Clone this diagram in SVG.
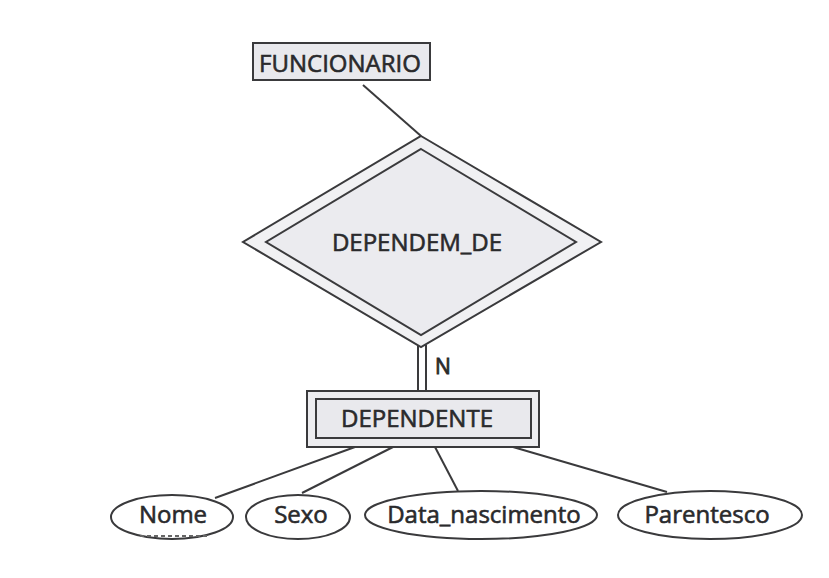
<svg xmlns="http://www.w3.org/2000/svg" width="829" height="578" viewBox="0 0 829 578">
<style>
.s{stroke:#3a3a3c;stroke-width:2;}
.lbl{font-family:"Open Sans","Liberation Sans",sans-serif;font-size:24px;fill:#2a2a2c;stroke:#2a2a2c;stroke-width:0.6;text-anchor:middle;}
.ent{fill:#e9e9ed;}
.att{fill:#ffffff;}
</style>
<rect width="829" height="578" fill="#ffffff"/>
<g id="connectors" class="s" fill="none">
<line x1="363" y1="85" x2="421" y2="136"/>
<line x1="418" y1="345" x2="418" y2="391"/>
<line x1="426" y1="345" x2="426" y2="391"/>
<line x1="355" y1="447" x2="215" y2="498"/>
<line x1="393" y1="447" x2="302" y2="493"/>
<line x1="435" y1="447" x2="458" y2="491"/>
<line x1="513" y1="447" x2="667" y2="492"/>
<text x="443" y="374" class="lbl" style="font-size:21px;stroke-width:0.8">N</text>
</g>
<g id="funcionario">
<rect x="253" y="43" width="177" height="37" class="s ent"/>
<text x="340" y="72" class="lbl">FUNCIONARIO</text>
</g>
<g id="dependem_de">
<polygon points="421,136 601,242 421,347 243,242" class="s" fill="#f1f1f3"/>
<polygon points="421,149 576,242 421,335 266,242" class="s" fill="#ebebef"/>
<text x="417" y="251" class="lbl">DEPENDEM_DE</text>
</g>
<g id="dependente">
<rect x="307" y="391" width="232" height="56" class="s" fill="#ededf0"/>
<rect x="316" y="399" width="215" height="39" class="s ent"/>
<text x="417" y="427" class="lbl">DEPENDENTE</text>
</g>
<g id="nome">
<ellipse cx="172" cy="517" rx="61" ry="22" class="s att"/>
<text x="173" y="523" class="lbl">Nome</text>
<line x1="140" y1="536" x2="208" y2="536" stroke="#666" stroke-width="2" stroke-dasharray="4,3"/>
</g>
<g id="sexo">
<ellipse cx="298" cy="517" rx="52" ry="22" class="s att"/>
<text x="301" y="523" class="lbl">Sexo</text>
</g>
<g id="data_nascimento">
<ellipse cx="481" cy="515" rx="116" ry="24" class="s att"/>
<text x="484" y="523" class="lbl">Data_nascimento</text>
</g>
<g id="parentesco">
<ellipse cx="710" cy="515" rx="92" ry="24" class="s att"/>
<text x="707" y="523" class="lbl">Parentesco</text>
</g>
</svg>
